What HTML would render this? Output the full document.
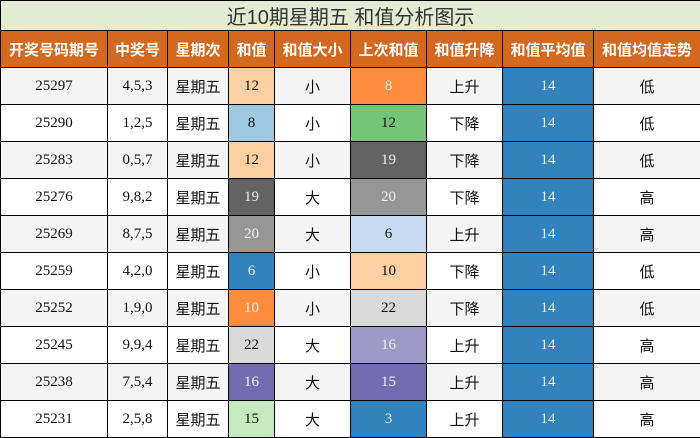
<!DOCTYPE html>
<html><head><meta charset="utf-8"><style>
body{margin:0;width:700px;height:437px;overflow:hidden;background:#fff;font-family:"Liberation Sans","Noto Sans CJK SC",sans-serif}
table{position:absolute;left:0;top:0;border-collapse:collapse;table-layout:fixed;width:700px}
td{border:1px solid #000;padding:0;text-align:center;overflow:hidden;white-space:nowrap}
.t td{height:27px;background:#e2ecd0;color:#333;font-size:20px}
.h td{height:36px;background:#d4681f;color:#fff;font-weight:bold;font-size:15px}
.r td{height:36px;font-size:15px;color:#111}
.r:nth-child(odd) td{background:#f4f4f4}
.r:nth-child(even) td{background:#fff}
.n{font-family:"Liberation Serif",serif}
.w{color:#eee!important}
</style></head><body>
<table>
<colgroup><col style="width:107px"><col style="width:60px"><col style="width:61px"><col style="width:46px"><col style="width:76px"><col style="width:76px"><col style="width:76px"><col style="width:91px"><col style="width:107px"></colgroup>
<tbody>
<tr class="t"><td colspan="9">近10期星期五 和值分析图示</td></tr>
<tr class="h"><td>开奖号码期号</td><td>中奖号</td><td>星期次</td><td>和值</td><td>和值大小</td><td>上次和值</td><td>和值升降</td><td>和值平均值</td><td>和值均值走势</td></tr>
<tr class="r"><td class="n">25297</td><td class="n">4,5,3</td><td>星期五</td><td class="n" style="background:#fdd0a2!important">12</td><td>小</td><td class="n w" style="background:#fd8d3c!important">8</td><td>上升</td><td class="n w" style="background:#3182bd!important">14</td><td>低</td></tr>
<tr class="r"><td class="n">25290</td><td class="n">1,2,5</td><td>星期五</td><td class="n" style="background:#9ecae1!important">8</td><td>小</td><td class="n" style="background:#74c476!important">12</td><td>下降</td><td class="n w" style="background:#3182bd!important">14</td><td>低</td></tr>
<tr class="r"><td class="n">25283</td><td class="n">0,5,7</td><td>星期五</td><td class="n" style="background:#fdd0a2!important">12</td><td>小</td><td class="n w" style="background:#636363!important">19</td><td>下降</td><td class="n w" style="background:#3182bd!important">14</td><td>低</td></tr>
<tr class="r"><td class="n">25276</td><td class="n">9,8,2</td><td>星期五</td><td class="n w" style="background:#636363!important">19</td><td>大</td><td class="n w" style="background:#969696!important">20</td><td>下降</td><td class="n w" style="background:#3182bd!important">14</td><td>高</td></tr>
<tr class="r"><td class="n">25269</td><td class="n">8,7,5</td><td>星期五</td><td class="n w" style="background:#969696!important">20</td><td>大</td><td class="n" style="background:#c6dbef!important">6</td><td>上升</td><td class="n w" style="background:#3182bd!important">14</td><td>高</td></tr>
<tr class="r"><td class="n">25259</td><td class="n">4,2,0</td><td>星期五</td><td class="n w" style="background:#3182bd!important">6</td><td>小</td><td class="n" style="background:#fdd0a2!important">10</td><td>下降</td><td class="n w" style="background:#3182bd!important">14</td><td>低</td></tr>
<tr class="r"><td class="n">25252</td><td class="n">1,9,0</td><td>星期五</td><td class="n w" style="background:#fd8d3c!important">10</td><td>小</td><td class="n" style="background:#d9d9d9!important">22</td><td>下降</td><td class="n w" style="background:#3182bd!important">14</td><td>低</td></tr>
<tr class="r"><td class="n">25245</td><td class="n">9,9,4</td><td>星期五</td><td class="n" style="background:#d9d9d9!important">22</td><td>大</td><td class="n w" style="background:#9e9ac8!important">16</td><td>上升</td><td class="n w" style="background:#3182bd!important">14</td><td>高</td></tr>
<tr class="r"><td class="n">25238</td><td class="n">7,5,4</td><td>星期五</td><td class="n w" style="background:#756bb1!important">16</td><td>大</td><td class="n w" style="background:#756bb1!important">15</td><td>上升</td><td class="n w" style="background:#3182bd!important">14</td><td>高</td></tr>
<tr class="r"><td class="n">25231</td><td class="n">2,5,8</td><td>星期五</td><td class="n" style="background:#c7e9c0!important">15</td><td>大</td><td class="n w" style="background:#3182bd!important">3</td><td>上升</td><td class="n w" style="background:#3182bd!important">14</td><td>高</td></tr>
</tbody></table>
</body></html>
